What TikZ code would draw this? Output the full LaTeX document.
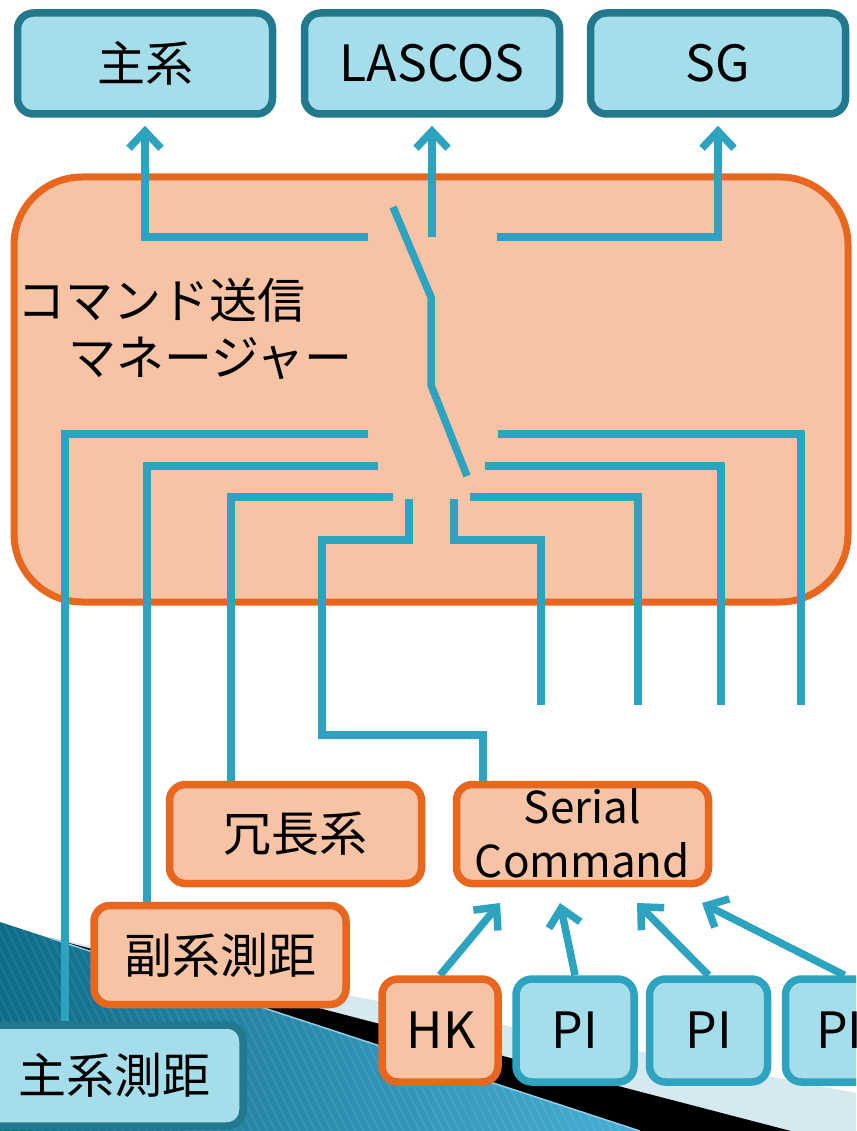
\documentclass[tikz,border=0pt]{standalone}
\usepackage{fontspec}
\setmainfont{Noto Sans CJK JP}
\usetikzlibrary{arrows.meta,calc}
\definecolor{lnblue}{HTML}{2DA3C0}
\definecolor{bfill}{HTML}{A6DDEA}
\definecolor{bdark}{HTML}{22788C}
\definecolor{ofill}{HTML}{F6C3A5}
\definecolor{oline}{HTML}{E8661E}
\definecolor{pale}{HTML}{D6E9F1}
\definecolor{tealA}{HTML}{0E6B88}
\definecolor{tealB}{HTML}{48AED4}
\pgfdeclarelayer{bg}
\pgfdeclarelayer{wires}
\pgfsetlayers{bg,wires,main}
\begin{document}
\begin{tikzpicture}[x=1pt,y=-1pt,
  bluebox/.style={draw=bdark, fill=bfill, line width=7.5pt, rounded corners=16pt, minimum width=255pt, minimum height=101pt, inner sep=0pt},
  pibox/.style={draw=lnblue, fill=bfill, line width=7.5pt, rounded corners=16pt, minimum width=118pt, minimum height=103pt, inner sep=0pt},
  hkbox/.style={draw=oline, fill=ofill, line width=7.5pt, rounded corners=16pt, minimum width=116pt, minimum height=103pt, inner sep=0pt},
  orbox/.style={draw=oline, fill=ofill, line width=7.5pt, rounded corners=16pt, minimum width=252pt, minimum height=99pt, inner sep=0pt},
  wire/.style={draw=lnblue, line width=7.5pt},
  arr/.style={wire, -{Straight Barb[length=17pt,width=32pt]}},
  jp/.style={font=\fontsize{48}{52}\selectfont},
  lat/.style={font=\fontsize{50}{54}\selectfont},
  lbl/.style={inner sep=0pt},
]
\useasboundingbox (0,0) rectangle (856,1131);
\clip (0,0) rectangle (856,1131);

% ---------- background layer ----------
\begin{pgfonlayer}{bg}
\fill[white] (0,0) rectangle (856,1131);
\fill[pale] (50,938) -- (856,1093) -- (856,1131) -- (791,1131) -- cycle;
\fill[black] (50,938) -- (791,1131) -- (640,1131) -- cycle;
\begin{scope}
  \clip (0,922) -- (640,1131) -- (0,1131) -- cycle;
  \shade[left color=tealA, right color=tealB] (0,900) rectangle (640,1131);
  \foreach \i in {-200,-192,...,700}
    \draw[white, opacity=0.08, line width=2pt] (\i,900) -- ++(120,240);
\end{scope}
\draw[color=tealB!60!white, line width=1.5pt] (50,938) -- (640,1131);
\node[draw=oline, fill=ofill, line width=7pt, rounded corners=68pt,
      minimum width=834pt, minimum height=425pt, inner sep=0pt] (mgr) at (431,389.5) {};
\end{pgfonlayer}

% ---------- boxes ----------
\node[bluebox] (shu) at (145,63.5) {};
\node[lbl, jp] (shut) at (145,63) {主系};
\node[bluebox] (las) at (432,63.5) {};
\node[lbl, lat] (last) at (432,63) {LASCOS};
\node[bluebox] (sg) at (718,63.5) {};
\node[lbl, lat] (sgt) at (718,63) {SG};

\node[lbl, jp, anchor=west] (mgrt1) at (17,300) {コマンド送信};
\node[lbl, jp, anchor=west] (mgrt2) at (68,358) {マネージャー};

\node[orbox] (jocho) at (295.5,834) {};
\node[lbl, jp] (jochot) at (295.5,834) {冗長系};
\node[orbox, align=center] (serial) at (582.5,834) {};
\node[lbl, align=center, font=\fontsize{44}{54}\selectfont] (serialt) at (582.5,833) {Serial\\Command};
\node[orbox] (fuku) at (220,955) {};
\node[lbl, jp] (fukut) at (220,955) {副系測距};
\node[bluebox, minimum width=263pt] (shusoku) at (111.5,1075.5) {};
\node[lbl, jp] (shusokut) at (114,1075) {主系測距};

\node[hkbox] (hk) at (440,1030.5) {};
\node[lbl, lat] (hkt) at (441,1030) {HK};
\node[pibox] (pi1) at (575,1030.5) {};
\node[lbl, lat] (pi1t) at (575,1030) {PI};
\node[pibox] (pi2) at (708.5,1030.5) {};
\node[lbl, lat] (pi2t) at (708.5,1030) {PI};
\node[pibox] (pi3) at (844.5,1030.5) {};
\node[lbl, lat, anchor=west] (pi3t) at (816,1030) {PI};

% ---------- wires ----------
\coordinate (x65) at (65,0);
\coordinate (x147) at (147,0);
\coordinate (x231) at (231,0);
\coordinate (x483) at (483,0);
\coordinate (L1) at (368,434);
\coordinate (L2) at (378,466);
\coordinate (L3) at (393,497);
\coordinate (L4) at (409,499);
\coordinate (R1) at (498,434);
\coordinate (R2) at (485,466);
\coordinate (R3) at (470,497);
\coordinate (R4) at (454,499);
\coordinate (E1) at (541,705);
\coordinate (E2) at (638,705);
\coordinate (E3) at (721,705);
\coordinate (E4) at (801,705);
\coordinate (TL) at (368,237);
\coordinate (TM) at (432,237);
\coordinate (TR) at (497,237);
\coordinate (S1) at (393,207);
\coordinate (S2) at (431,297);
\coordinate (S3) at (431,385);
\coordinate (S4) at (467,476);
\coordinate (A1) at (500,903);
\coordinate (A2) at (560,903);
\coordinate (A3) at (637,903);
\coordinate (A4) at (702,903);

\begin{pgfonlayer}{wires}
\draw[arr] (TL) -| ($(shu.south)+(0,8)$);
\draw[arr] (TM) -- ($(las.south)+(0,8)$);
\draw[arr] (TR) -| ($(sg.south)+(0,8)$);
\draw[wire] (S1) -- (S2) -- (S3) -- (S4);

\draw[wire] (L1) -| (shusoku.north -| x65);
\draw[wire] (L2) -| (fuku.north -| x147);
\draw[wire] (L3) -| (jocho.north -| x231);
\draw[wire] (L4) -- (409,540) -- (322,540) -- (322,735) -| (serial.north -| x483);

\draw[wire] (R1) -| (E4);
\draw[wire] (R2) -| (E3);
\draw[wire] (R3) -| (E2);
\draw[wire] (R4) -- (454,540) -| (E1);

\draw[arr] (hk.north) -- (A1);
\draw[arr] (pi1.north) -- (A2);
\draw[arr] (pi2.north) -- (A3);
\draw[arr] (pi3.north) -- (A4);
\end{pgfonlayer}
\end{tikzpicture}
\end{document}
